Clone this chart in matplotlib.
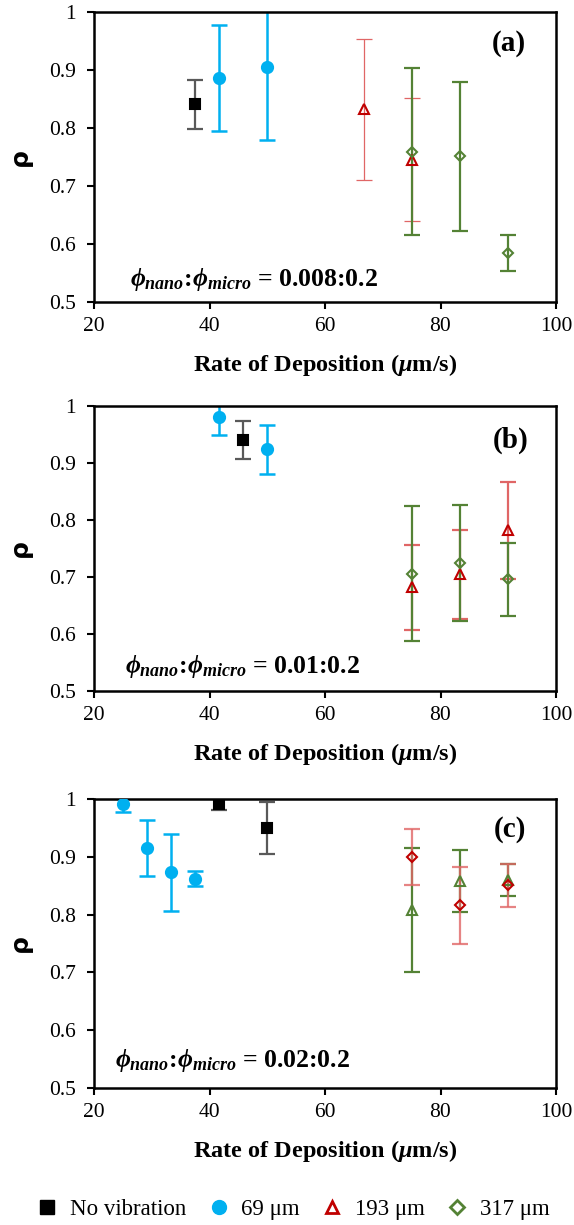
import numpy as np
import matplotlib
matplotlib.use('Agg')
import matplotlib.pyplot as plt
from matplotlib.lines import Line2D

plt.rcParams['font.family'] = 'Liberation Serif'
plt.rcParams['mathtext.fontset'] = 'custom'
plt.rcParams['mathtext.rm'] = 'Liberation Serif:bold'
plt.rcParams['mathtext.it'] = 'Liberation Serif:italic:bold'
plt.rcParams['mathtext.bf'] = 'Liberation Serif:bold'

# ---- data (rate of deposition in um/s, rho, error) ----
# panel (a)  phi_nano:phi_micro = 0.008:0.2
a_nv_x, a_nv_y, a_nv_e = [37.5], [0.841], [0.042]
a_69_x, a_69_y, a_69_e = [41.7, 50.0], [0.886, 0.905], [0.092, 0.125]
a_193_x, a_193_y, a_193_e = [66.7, 75.0], [0.832, 0.745], [0.121, 0.106]
a_317_x, a_317_y, a_317_e = [75.0, 83.3, 91.7], [0.759, 0.751, 0.584], [0.144, 0.129, 0.031]

# panel (b)  0.01:0.2
b_nv_x, b_nv_y, b_nv_e = [45.8], [0.940], [0.033]
b_69_x, b_69_y, b_69_e = [41.7, 50.0], [0.981, 0.924], [0.031, 0.043]
b_193_x, b_193_y, b_193_e = [75.0, 83.3, 91.7], [0.682, 0.705, 0.782], [0.075, 0.078, 0.085]
b_317_x, b_317_y, b_317_e = [75.0, 83.3, 91.7], [0.706, 0.724, 0.696], [0.118, 0.102, 0.064]

# panel (c)  0.02:0.2
c_nv_x, c_nv_y, c_nv_e = [41.7, 50.0], [0.992, 0.949], [0.011, 0.045]
c_69_x, c_69_y, c_69_e = [25.0, 29.2, 33.3, 37.5], [0.992, 0.915, 0.873, 0.862], [0.015, 0.049, 0.067, 0.013]
c_193_x, c_193_y, c_193_e = [75.0, 83.3, 91.7], [0.900, 0.816, 0.851], [0.048, 0.067, 0.037]
c_317_x, c_317_y, c_317_e = [75.0, 83.3, 91.7], [0.808, 0.858, 0.860], [0.107, 0.054, 0.028]

ratios = ['0.008:0.2', '0.01:0.2', '0.02:0.2']
letters = ['(a)', '(b)', '(c)']
xticks = [20, 40, 60, 80, 100]
yticks = [0.5, 0.6, 0.7, 0.8, 0.9, 1.0]
ytick_labels = ['0.5', '0.6', '0.7', '0.8', '0.9', '1']
legend_labels = ['No vibration', '69 \u03bcm', '193 \u03bcm', '317 \u03bcm']

BLACK = '#000000'
GREY = '#595959'
BLUE = '#00B0F0'
RED = '#C00000'
LRED = '#E06666'
GREEN = '#548235'

fig = plt.figure(figsize=(5.74, 12.25), dpi=100)
boxes = [(94/574, 1-302/1225, 462/574, 290/1225),
         (94/574, 1-691/1225, 462/574, 285/1225),
         (94/574, 1-1088/1225, 462/574, 289/1225)]
letter_pos = [(0.898, 0.89), (0.902, 0.88), (0.90, 0.893)]
phi_pos = [(0.078, 0.055), (0.067, 0.063), (0.045, 0.074)]


def eb(ax, x, y, e, marker, mfc, mec, ecol, ms, elw, z, alpha=1.0):
    ax.errorbar(x, y, yerr=e, fmt='none', ecolor=ecol, elinewidth=elw,
                capsize=5.5, capthick=elw, zorder=z, alpha=alpha)
    ax.plot(x, y, linestyle='none', marker=marker, markersize=ms,
            markerfacecolor=mfc, markeredgecolor=mec, markeredgewidth=1.5,
            zorder=z + 5)


for i, box in enumerate(boxes):
    ax = fig.add_axes(box)
    if i == 0:
        eb(ax, a_nv_x, a_nv_y, a_nv_e, 's', BLACK, BLACK, GREY, 7, 1.6, 2)
        eb(ax, a_69_x, a_69_y, a_69_e, 'o', BLUE, BLUE, BLUE, 8, 1.8, 2)
        eb(ax, a_193_x, a_193_y, a_193_e, '^', 'none', RED, LRED, 7, 0.9, 2)
        eb(ax, a_317_x, a_317_y, a_317_e, 'D', 'none', GREEN, GREEN, 5.5, 1.6, 3)
    elif i == 1:
        eb(ax, b_nv_x, b_nv_y, b_nv_e, 's', BLACK, BLACK, GREY, 7, 1.6, 2)
        eb(ax, b_69_x, b_69_y, b_69_e, 'o', BLUE, BLUE, BLUE, 8, 1.8, 2)
        eb(ax, b_193_x, b_193_y, b_193_e, '^', 'none', RED, LRED, 7, 1.6, 2)
        eb(ax, b_317_x, b_317_y, b_317_e, 'D', 'none', GREEN, GREEN, 5.5, 1.6, 3)
    else:
        eb(ax, c_nv_x, c_nv_y, c_nv_e, 's', BLACK, BLACK, GREY, 7, 1.6, 2)
        eb(ax, c_69_x, c_69_y, c_69_e, 'o', BLUE, BLUE, BLUE, 8, 1.8, 2)
        eb(ax, c_317_x, c_317_y, c_317_e, '^', 'none', GREEN, GREEN, 7, 1.6, 2)
        eb(ax, c_193_x, c_193_y, c_193_e, 'D', 'none', RED, LRED, 5.5, 1.6, 3, alpha=0.8)

    ax.set_xlim(20, 100)
    ax.set_ylim(0.5, 1.0)
    ax.set_xticks(xticks)
    ax.set_yticks(yticks)
    ax.set_yticklabels(ytick_labels)
    ax.tick_params(direction='out', length=5, width=1.5, labelsize=15.5)
    ax.tick_params(axis='y', pad=8)
    ax.tick_params(axis='x', pad=6)
    for sp in ax.spines.values():
        sp.set_linewidth(1.8)
    ax.set_xlabel('Rate of Deposition ($\\mu$m/s)', fontsize=17.5, fontweight='bold', labelpad=11)
    ax.set_ylabel('\u03c1', fontsize=18, fontweight='bold', family='DejaVu Sans', labelpad=12)
    ax.text(letter_pos[i][0], letter_pos[i][1], letters[i], transform=ax.transAxes,
            fontsize=21, fontweight='bold', ha='center', va='center')
    ax.text(phi_pos[i][0], phi_pos[i][1],
            '$\\phi_{nano}$:$\\phi_{micro}$ = ' + ratios[i], transform=ax.transAxes,
            fontsize=18.5, fontweight='bold', ha='left', va='baseline', clip_on=True)

handles = [
    Line2D([], [], linestyle='none', marker='s', markersize=10, color=BLACK),
    Line2D([], [], linestyle='none', marker='o', markersize=10, color=BLUE),
    Line2D([], [], linestyle='none', marker='^', markersize=9, markerfacecolor='none',
           markeredgecolor=RED, markeredgewidth=2),
    Line2D([], [], linestyle='none', marker='D', markersize=7, markerfacecolor='none',
           markeredgecolor=GREEN, markeredgewidth=2),
]
fig.legend(handles, legend_labels, loc='center', bbox_to_anchor=(0.51, 0.013), ncol=4,
           frameon=False, fontsize=16.5, handletextpad=0.5, columnspacing=0.9,
           handlelength=1.0)

fig.savefig('out.png', dpi=100)
